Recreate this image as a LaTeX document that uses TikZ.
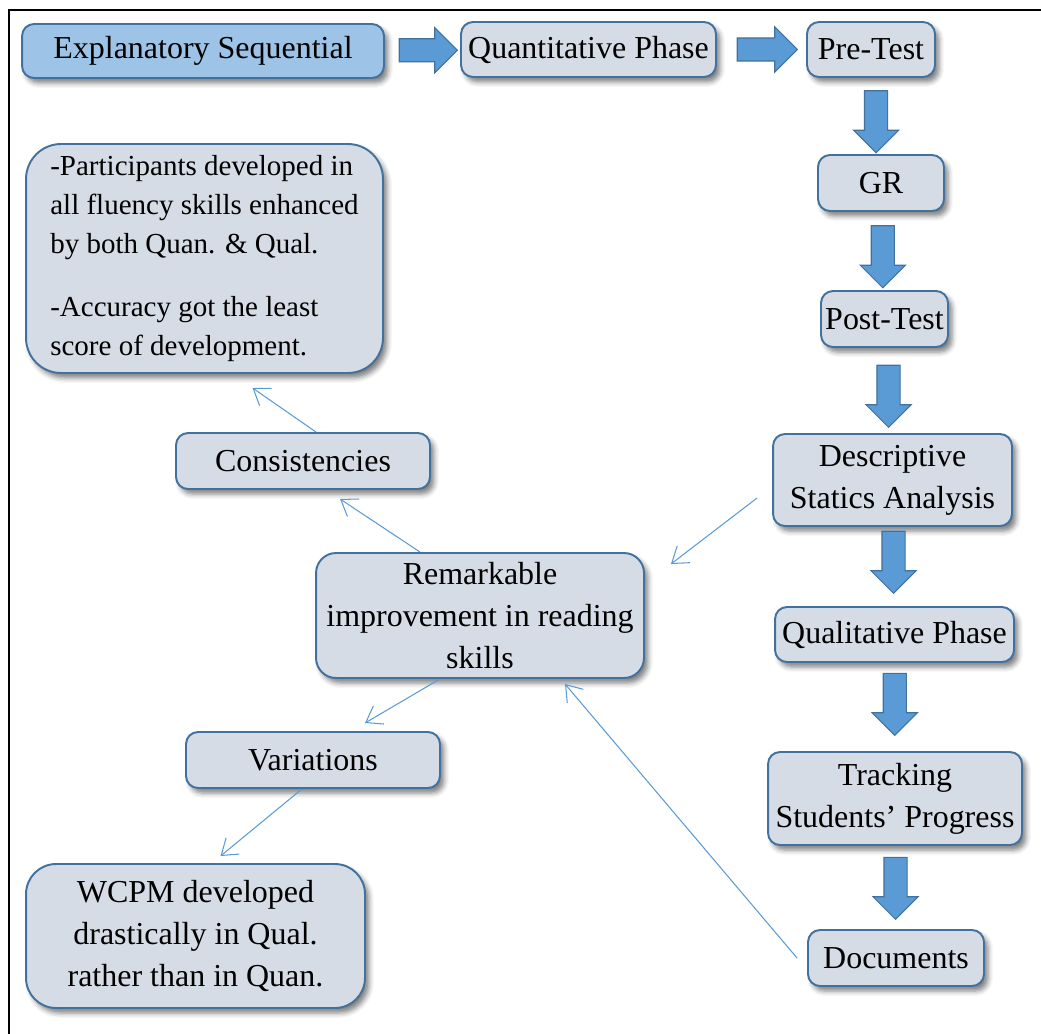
\documentclass[tikz,border=0pt]{standalone}
\usepackage{fontspec}
\setmainfont{Liberation Serif}
\usetikzlibrary{calc,shapes.arrows,shadows.blur,arrows.meta}
\definecolor{boxfill}{RGB}{214,220,229}
\definecolor{boxline}{RGB}{65,113,156}
\definecolor{explfill}{RGB}{157,195,230}
\definecolor{arrowfill}{RGB}{91,155,213}
\definecolor{linkblue}{RGB}{91,155,213}
\tikzset{
  box/.style={draw=boxline, line width=1.1pt, fill=boxfill, rounded corners=0.24cm,
    inner sep=0pt, align=center, font=\fontsize{18.2}{23.8}\selectfont,
    blur shadow={shadow xshift=0.08cm, shadow yshift=-0.1cm, shadow blur radius=0.1cm, shadow opacity=50}},
  fatarrow/.style={single arrow, draw=boxline, fill=arrowfill, line width=0.6pt, inner xsep=0pt,
    inner ysep=0.22cm, single arrow head extend=0.22cm, minimum height=1.24cm},
  thinarrow/.style={draw=linkblue, line width=0.6pt, -{Straight Barb[length=0.3cm,width=0.42cm]}}
}
\begin{document}
\begin{tikzpicture}[x=0.02cm, y=-0.02cm]
\useasboundingbox (0,0) rectangle (1041,1034);
\draw [line width=1.2pt] (9,1034) -- (9,10) -- (1041,10);
% quantitative column
\node [box, fill=explfill, minimum width=7.24cm, minimum height=1.08cm] (expl) at (203,51) {Explanatory Sequential};
\node [box, minimum width=5.1cm, minimum height=1.1cm] (quant) at (588.5,49.5) {Quantitative Phase};
\node [box, minimum width=2.56cm, minimum height=1.1cm] (pre) at (871,49.5) {Pre-Test};
\node [box, minimum width=2.52cm, minimum height=1.12cm] (gr) at (881,183) {GR};
\node [box, minimum width=2.54cm, minimum height=1.12cm] (post) at (884.5,319) {Post-Test};
\node [box, minimum width=4.78cm, minimum height=1.84cm] (desc) at (892.5,480) {Descriptive\\Statics Analysis};
\node [box, minimum width=4.78cm, minimum height=1.1cm] (qual) at (894.5,634.5) {Qualitative Phase};
\node [box, minimum width=5.08cm, minimum height=1.86cm] (track) at (895,798.5) {Tracking\\Students’ Progress};
\node [box, minimum width=3.52cm, minimum height=1.12cm] (docs) at (896,958) {Documents};
% results
\node [box, rounded corners=0.4cm, minimum width=6.56cm, minimum height=2.5cm] (rem) at (480,615.5) {Remarkable\\improvement in reading\\skills};
\node [box, minimum width=5.08cm, minimum height=1.12cm] (cons) at (303,461) {Consistencies};
\node [box, minimum width=5.08cm, minimum height=1.12cm] (var) at (313,760) {Variations};
\node [box, rounded corners=0.6cm, minimum width=6.78cm, minimum height=2.88cm] (wcpm) at (195.5,936) {WCPM developed\\drastically in Qual.\\rather than in Quan.};
\node [box, rounded corners=0.7cm, minimum width=7.14cm, minimum height=4.58cm, align=left,
  font=\fontsize{16.5}{22.4}\selectfont] (part) at (204.5,258.5)
  {-Participants developed in\\all fluency skills enhanced\\by both Quan. \& Qual.\\[0.46cm]-Accuracy got the least\\score of development.};
% block arrows
\node [fatarrow, minimum height=1.16cm] (a1) at ($(expl.east)!0.5!(quant.west)$) {};
\node [fatarrow, minimum height=1.2cm] (a2) at ($(quant.east)!0.5!(pre.west)$) {};
\node [fatarrow, rotate=-90] (a3) at ($(pre.south)!0.5!(gr.north)$) {};
\node [fatarrow, rotate=-90] (a4) at ($(gr.south)!0.5!(post.north)$) {};
\node [fatarrow, rotate=-90] (a5) at ($(post.south)!0.5!(desc.north)$) {};
\node [fatarrow, rotate=-90, xshift=-0.2cm] (a6) at ($(desc.south)!0.5!(qual.north)$) {};
\node [fatarrow, rotate=-90, xshift=-0.17cm] (a7) at ($(qual.south)!0.5!(track.north)$) {};
\node [fatarrow, rotate=-90, xshift=-0.1cm] (a8) at ($(track.south)!0.5!(docs.north)$) {};
% thin links
\draw [thinarrow] ([shift={(-0.3cm,-0.36cm)}]desc.west) -- ([shift={(0.52cm,-0.24cm)}]rem.north east);
\draw [thinarrow] ([xshift=-0.2cm]docs.west) -- ([shift={(1.7cm,-0.1cm)}]rem.south);
\draw [thinarrow] ([xshift=-1.2cm]rem.north) -- ([shift={(0.74cm,-0.18cm)}]cons.south);
\draw [thinarrow] ([xshift=0.26cm]cons.north) -- ([shift={(0.96cm,-0.28cm)}]part.south);
\draw [thinarrow] ([xshift=-0.8cm]rem.south) -- ([shift={(1.04cm,0.16cm)}]var.north);
\draw [thinarrow] ([xshift=-0.22cm]var.south) -- ([shift={(0.5cm,0.14cm)}]wcpm.north);
\end{tikzpicture}
\end{document}
